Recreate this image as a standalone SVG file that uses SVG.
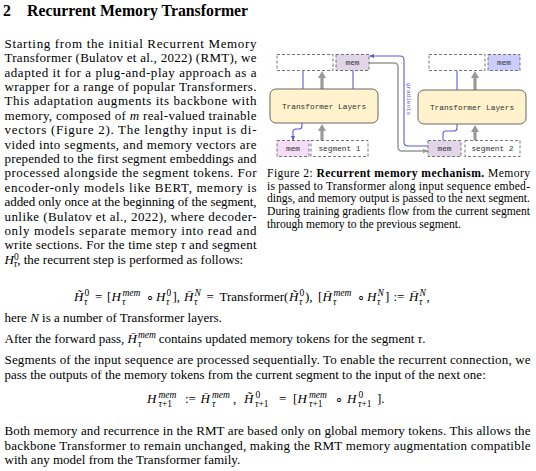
<svg xmlns="http://www.w3.org/2000/svg" width="536" height="471" viewBox="0 0 536 471">
<defs>
<marker id="mb" viewBox="0 0 10 10" refX="9" refY="5" markerWidth="5" markerHeight="5" orient="auto" markerUnits="userSpaceOnUse"><path d="M0,1L10,5L0,9Z" fill="#5b5bd6"/></marker>
<marker id="mg" viewBox="0 0 10 10" refX="9" refY="5" markerWidth="6" markerHeight="6" orient="auto" markerUnits="userSpaceOnUse"><path d="M0,1L10,5L0,9Z" fill="#999"/></marker>
</defs>
<style>
.t{font-family:"Liberation Serif","Times New Roman",serif;font-size:13px;fill:#000}
.c{font-size:11.6px}
.h{font-size:15.8px;font-weight:bold}
.i{font-style:italic}
.s{font-size:9.5px;font-style:italic}
.su{font-size:9.5px}
.m{font-family:"Liberation Mono","Courier New",monospace;font-size:7.8px;fill:#333}
.db{stroke:#666;stroke-width:0.9;stroke-dasharray:3 2}
.tl{fill:#fff2cc;stroke:#666;stroke-width:1}
.bl{fill:none;stroke:#5b5bd6;stroke-width:1.1}
.gr{fill:none;stroke:#999;stroke-width:1.5}
.gt{fill:none;stroke:#999;stroke-width:3.2}
.gh{fill:#999}
</style>

<!-- heading -->
<text class="t h" x="3" y="16">2</text>
<text class="t h" x="27" y="16">Recurrent Memory Transformer</text>

<!-- left column -->
<text class="t" x="4.5" y="47.7" textLength="252" lengthAdjust="spacing">Starting from the initial Recurrent Memory</text>
<text class="t" x="4.5" y="62.1" textLength="252" lengthAdjust="spacing">Transformer (Bulatov et al., 2022) (RMT), we</text>
<text class="t" x="4.5" y="76.5" textLength="252" lengthAdjust="spacing">adapted it for a plug-and-play approach as a</text>
<text class="t" x="4.5" y="90.9" textLength="252" lengthAdjust="spacing">wrapper for a range of popular Transformers.</text>
<text class="t" x="4.5" y="105.3" textLength="252" lengthAdjust="spacing">This adaptation augments its backbone with</text>
<text class="t" x="4.5" y="119.7" textLength="252" lengthAdjust="spacing">memory, composed of <tspan class="i">m</tspan> real-valued trainable</text>
<text class="t" x="4.5" y="134.1" textLength="252" lengthAdjust="spacing">vectors (Figure 2).  The lengthy input is di-</text>
<text class="t" x="4.5" y="148.5" textLength="252" lengthAdjust="spacing">vided into segments, and memory vectors are</text>
<text class="t" x="4.5" y="162.9" textLength="252" lengthAdjust="spacing">prepended to the first segment embeddings and</text>
<text class="t" x="4.5" y="177.3" textLength="252" lengthAdjust="spacing">processed alongside the segment tokens.  For</text>
<text class="t" x="4.5" y="191.7" textLength="252" lengthAdjust="spacing">encoder-only models like BERT, memory is</text>
<text class="t" x="4.5" y="206.1" textLength="252" lengthAdjust="spacing">added only once at the beginning of the segment,</text>
<text class="t" x="4.5" y="220.5" textLength="252" lengthAdjust="spacing">unlike (Bulatov et al., 2022), where decoder-</text>
<text class="t" x="4.5" y="234.9" textLength="252" lengthAdjust="spacing">only models separate memory into read and</text>
<text class="t" x="4.5" y="249.3" textLength="252" lengthAdjust="spacing">write sections. For the time step <tspan class="i">τ</tspan> and segment</text>
<text class="t" x="4.5" y="263.7"><tspan class="i">H</tspan><tspan class="su" dy="-4">0</tspan><tspan class="s" dx="-4.8" dy="7.5">τ</tspan><tspan dy="-3.5">, the recurrent step is performed as follows:</tspan></text>

<!-- caption -->
<text class="t c" x="267" y="177" textLength="263" lengthAdjust="spacing">Figure 2:  <tspan font-weight="bold">Recurrent memory mechanism.</tspan> Memory</text>
<text class="t c" x="267" y="189.7" textLength="263" lengthAdjust="spacing">is passed to Transformer along input sequence embed-</text>
<text class="t c" x="267" y="202.4" textLength="263" lengthAdjust="spacing">dings, and memory output is passed to the next segment.</text>
<text class="t c" x="267" y="215.1" textLength="263" lengthAdjust="spacing">During training gradients flow from the current segment</text>
<text class="t c" x="267" y="227.8">through memory to the previous segment.</text>

<!-- equation 1 -->
<text class="t" y="301">
<tspan class="i" x="74">H&#x303;</tspan><tspan class="su" x="84.5" y="296">0</tspan><tspan class="s" x="84" y="304.5">τ</tspan>
<tspan x="95" y="301">=</tspan><tspan x="107">[</tspan><tspan class="i" x="111.5">H</tspan><tspan class="s" x="122.5" y="296">mem</tspan><tspan class="s" x="122" y="304.5">τ</tspan>
<tspan x="146" y="301">∘</tspan><tspan class="i" x="156">H</tspan><tspan class="su" x="166.5" y="296">0</tspan><tspan class="s" x="166" y="304.5">τ</tspan>
<tspan x="172.5" y="301">],</tspan><tspan class="i" x="184">H&#x304;</tspan><tspan class="s" x="194.5" y="296">N</tspan><tspan class="s" x="194" y="304.5">τ</tspan>
<tspan x="206.5" y="301">=</tspan><tspan x="219.5">Transformer(</tspan><tspan class="i" x="289">H&#x303;</tspan><tspan class="su" x="299.5" y="296">0</tspan><tspan class="s" x="299" y="304.5">τ</tspan>
<tspan x="305" y="301">),</tspan><tspan x="318">[</tspan><tspan class="i" x="322.5">H&#x304;</tspan><tspan class="s" x="333.5" y="296">mem</tspan><tspan class="s" x="333" y="304.5">τ</tspan>
<tspan x="357" y="301">∘</tspan><tspan class="i" x="367">H</tspan><tspan class="s" x="377.5" y="296">N</tspan><tspan class="s" x="377" y="304.5">τ</tspan>
<tspan x="385" y="301">]</tspan><tspan x="393.5">:=</tspan><tspan class="i" x="409">H&#x304;</tspan><tspan class="s" x="419.5" y="296">N</tspan><tspan class="s" x="419" y="304.5">τ</tspan><tspan x="426.5" y="301">,</tspan>
</text>

<text class="t" x="4.5" y="322">here <tspan class="i">N</tspan> is a number of Transformer layers.</text>
<text class="t" x="4.5" y="343">After the forward pass, <tspan class="i">H&#x304;</tspan><tspan class="s" dx="1" dy="-5">mem</tspan><tspan class="s" dx="-17.9" dy="8.5">τ</tspan><tspan dx="14" dy="-3.5"> contains updated memory tokens for the segment </tspan><tspan class="i">τ</tspan>.</text>
<text class="t" x="4.5" y="364" textLength="526" lengthAdjust="spacing">Segments of the input sequence are processed sequentially.  To enable the recurrent connection, we</text>
<text class="t" x="4.5" y="379.3">pass the outputs of the memory tokens from the current segment to the input of the next one:</text>

<!-- equation 2 -->
<text class="t" y="403">
<tspan class="i" x="147">H</tspan><tspan class="s" x="158.5" y="398">mem</tspan><tspan class="s" x="158.5" y="406.5">τ</tspan><tspan class="su" y="406.5">+1</tspan>
<tspan x="185" y="403">:=</tspan><tspan class="i" x="200.5">H&#x304;</tspan><tspan class="s" x="212" y="398">mem</tspan><tspan class="s" x="212" y="406.5">τ</tspan>
<tspan x="233" y="403">,</tspan><tspan class="i" x="244">H&#x303;</tspan><tspan class="su" x="255.5" y="398">0</tspan><tspan class="s" x="255" y="406.5">τ</tspan><tspan class="su" y="406.5">+1</tspan>
<tspan x="279" y="403">=</tspan><tspan x="293">[</tspan><tspan class="i" x="297.5">H</tspan><tspan class="s" x="309" y="398">mem</tspan><tspan class="s" x="309" y="406.5">τ</tspan><tspan class="su" y="406.5">+1</tspan>
<tspan x="335" y="403">∘</tspan><tspan class="i" x="347">H</tspan><tspan class="su" x="358.5" y="398">0</tspan><tspan class="s" x="358" y="406.5">τ</tspan><tspan class="su" y="406.5">+1</tspan>
<tspan x="377" y="403">].</tspan>
</text>

<text class="t" x="4.5" y="435" textLength="526" lengthAdjust="spacing">Both memory and recurrence in the RMT are based only on global memory tokens. This allows the</text>
<text class="t" x="4.5" y="449.5" textLength="526" lengthAdjust="spacing">backbone Transformer to remain unchanged, making the RMT memory augmentation compatible</text>
<text class="t" x="4.5" y="464">with any model from the Transformer family.</text>

<!-- figure: connectors -->
<g id="connectors">
<path class="bl" d="M303,89V70.5"/>
<path class="bl" d="M353,89V70.5"/>
<path class="gt" d="M322,89V77"/><path class="gh" d="M318,78L322,71L326,78Z"/>
<path class="gt" d="M322,140.5V130"/><path class="gh" d="M318,131L322,124L326,131Z"/>
<path class="bl" d="M302,123V126Q302,129 299,129H296Q293,129 293,132V140.5" marker-end="url(#mb)"/>
<path class="bl" d="M457,90V70.5"/>
<path class="gt" d="M475,90V77"/><path class="gh" d="M471,78L475,71L479,78Z"/>
<path class="gt" d="M475,140.5V131"/><path class="gh" d="M471,132L475,125L479,132Z"/>
<path class="bl" d="M443,140.5V134Q443,131 446,131H454Q457,131 457,128V124"/>
<path class="bl" d="M428,146H408Q404,146 404,142V60Q404,56 400,56H369.5" marker-end="url(#mb)"/>
<path class="gr" d="M369,63H394Q398,63 398,67V147Q398,151 402,151H428" marker-end="url(#mg)"/>
<text transform="translate(407,99) rotate(90)" text-anchor="middle" font-family="Liberation Mono, monospace" font-size="6" fill="#5b5bd6">gradients</text>
</g>

<!-- figure: nodes -->
<g id="out1"><rect class="db" x="277" y="54.5" width="56" height="16" fill="#fff"/></g>
<g id="memout1"><rect class="db" x="336" y="54.5" width="33" height="16" fill="#e1d5e7"/><text class="m" x="352.5" y="65" text-anchor="middle">mem</text></g>
<g id="tl1"><rect class="tl" x="270" y="89" width="108" height="34" rx="6"/><text class="m" x="324" y="109" text-anchor="middle">Transformer Layers</text></g>
<g id="memin1"><rect class="db" x="277" y="140.5" width="32" height="16" fill="#f5dcf7"/><text class="m" x="293" y="151" text-anchor="middle">mem</text></g>
<g id="seg1"><rect class="db" x="311" y="140.5" width="57" height="16" fill="#fff"/><text class="m" x="339.5" y="151" text-anchor="middle">segment 1</text></g>

<g id="out2"><rect class="db" x="429" y="54.5" width="56" height="16" fill="#fff"/></g>
<g id="memout2"><rect class="db" x="488" y="54.5" width="32" height="16" fill="#ccccff"/><text class="m" x="504" y="65" text-anchor="middle">mem</text></g>
<g id="tl2"><rect class="tl" x="418" y="90" width="108" height="34" rx="6"/><text class="m" x="472" y="110" text-anchor="middle">Transformer Layers</text></g>
<g id="memin2"><rect class="db" x="428" y="140.5" width="33" height="16" fill="#e1d5e7"/><text class="m" x="444.5" y="151" text-anchor="middle">mem</text></g>
<g id="seg2"><rect class="db" x="465" y="140.5" width="55" height="16" fill="#fff"/><text class="m" x="492.5" y="151" text-anchor="middle">segment 2</text></g>
</svg>
